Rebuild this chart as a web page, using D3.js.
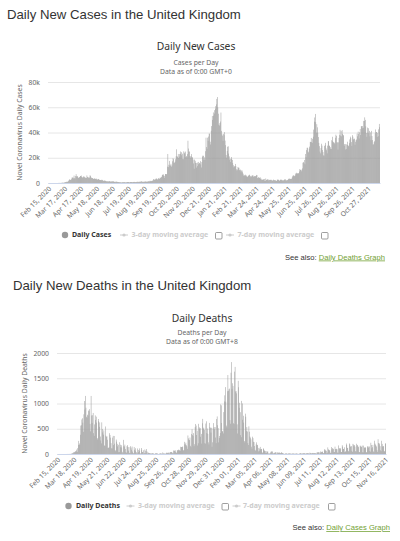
<!DOCTYPE html>
<html><head><meta charset="utf-8">
<script src="https://cdn.jsdelivr.net/npm/d3@7"></script>
<style>
html,body{margin:0;padding:0;background:#fff;}
svg{display:block;}
</style></head><body>
<svg id="c" width="400" height="541"></svg>
<script>
// ---------------- DATA ----------------
const casesStart = "2020-02-15";
// daily new cases, in thousands (Feb 15, 2020 -> Nov 19, 2021)
const casesK = [
0,0,0,0,0,0,0,0,0,0,0,0,0,0,0,
0.01,0.01,0.01,0.01,0.03,0.05,0.05,0.07,0.05,0.05,0.08,0.13,0.2,0.25,0.23,0.15,0.4,0.4,0.67,0.64,1.0,0.67,1.0,0.97,1.45,2.1,2.9,2.5,2.4,2.6,3.0,
4.3,4.2,4.4,3.7,5.9,3.8,3.6,5.5,7.0,5.2,5.3,5.3,4.3,4.0,4.6,4.6,5.6,5.5,5.9,4.7,4.3,4.5,4.6,5.4,4.9,4.3,4.3,3.9,4.0,6.0,
4.8,4.8,4.3,3.9,4.4,6.1,5.6,4.6,3.9,3.9,3.9,3.4,3.2,3.4,3.6,3.4,3.1,3.5,2.9,2.7,2.8,3.2,2.9,2.6,2.4,2.3,2.4,2.2,2.6,2.4,1.9,
1.6,1.9,1.9,1.8,1.7,1.6,1.3,1.2,1.4,1.0,1.3,1.5,1.4,1.2,1.1,1.3,1.1,1.2,1.3,1.3,1.2,0.96,0.87,0.65,1.1,1.1,0.9,0.9,0.8,0.7,
0.8,0.6,0.6,0.6,0.5,0.35,0.58,0.63,0.64,0.6,0.8,0.65,0.5,0.5,0.54,0.6,0.7,0.8,0.8,0.7,0.45,0.6,0.76,0.77,0.77,0.74,0.69,0.58,0.76,0.85,0.88,
0.74,0.74,0.67,0.77,0.95,0.95,0.87,0.76,1.06,0.8,1.15,1.0,0.95,1.45,1.0,1.0,0.71,1.1,0.8,1.2,1.0,1.3,1.2,0.85,1.2,1.0,1.3,1.3,1.1,1.7,1.7,
1.3,1.5,1.7,1.9,1.8,3.0,2.9,2.5,2.7,2.9,3.5,3.5,3.3,2.6,3.1,3.9,3.4,3.4,4.3,3.9,4.4,4.9,6.2,6.6,6.9,6.0,5.7,4.0,7.1,7.1,
6.9,7.1,12.9,23.0,12.6,14.5,17.5,13.9,13.9,15.2,12.9,13.9,17.2,19.7,18.9,15.7,16.2,16.9,18.8,21.3,26.7,21.2,20.5,23.0,19.8,20.9,22.9,25.0,23.1,24.4,22.0,
23.2,19.0,18.9,25.1,24.1,23.3,24.9,20.6,21.4,20.4,22.9,33.5,27.3,24.9,24.9,21.4,20.1,21.1,22.9,20.2,20.3,18.6,15.5,11.3,18.6,17.6,16.0,15.9,12.2,13.4,
16.2,14.9,16.7,15.8,15.5,17.3,14.7,12.3,16.6,20.9,21.7,21.5,18.4,20.3,18.5,25.2,35.9,28.5,27.1,35.9,33.4,36.8,39.2,39.0,32.7,30.5,41.4,45.1,53.1,50.0,55.9,
53.3,57.7,55.0,58.8,60.9,62.3,66.6,68.1,59.9,54.9,46.2,45.5,47.5,48.7,55.8,41.3,38.6,37.5,33.4,38.9,37.9,40.3,33.6,30.0,22.2,20.1,25.3,28.7,29.1,23.3,21.1,
18.6,16.6,19.2,20.6,19.1,18.3,15.8,14.1,12.4,13.0,13.5,15.1,13.3,10.9,9.8,10.6,12.7,12.0,12.1,10.4,9.8,10.6,8.5,9.9,9.9,8.5,7.4,6.0,
5.5,6.4,5.8,6.6,6.0,5.2,5.2,4.7,5.8,5.9,6.6,6.1,5.5,4.6,5.1,5.8,5.8,6.3,4.8,5.6,5.3,5.3,5.4,5.6,6.4,6.2,3.9,3.9,4.7,4.1,4.1,
4.5,3.4,3.4,2.3,2.8,2.4,2.6,3.0,3.2,1.7,1.7,3.6,2.5,2.5,2.7,3.0,2.6,1.9,2.5,2.4,2.4,2.7,2.4,1.7,2.0,2.1,2.7,2.4,2.1,2.4,
1.9,1.7,1.6,2.6,2.6,2.6,2.5,2.0,1.8,2.4,2.7,2.3,2.7,2.2,1.9,1.9,2.4,2.7,2.8,2.9,2.1,2.2,1.9,2.4,2.5,3.2,3.5,3.4,3.2,3.2,3.4,
3.2,4.3,5.3,6.2,5.8,5.3,5.7,6.0,7.5,7.4,8.1,7.7,7.5,7.7,7.7,9.1,11.0,10.5,10.3,9.3,10.6,11.6,16.1,16.7,15.8,18.3,14.9,23.0,20.5,26.1,
27.9,27.9,24.9,24.2,27.3,28.8,32.6,32.5,35.7,32.4,31.8,35.0,36.7,42.3,48.6,51.9,54.7,48.2,39.9,46.6,44.1,39.9,36.4,31.8,29.2,24.9,23.5,27.7,31.1,29.6,26.1,
24.5,21.9,21.7,29.3,30.2,31.8,27.4,26.0,23.5,29.6,33.1,33.1,29.5,29.5,27.0,28.4,26.9,33.9,36.6,33.1,32.4,31.9,31.9,30.8,35.8,38.3,37.3,32.2,32.2,26.5,32.2,
35.7,38.2,42.1,37.6,41.2,37.0,41.9,38.9,38.1,37.6,29.5,30.8,30.8,26.6,30.6,26.9,32.7,30.1,29.6,29.1,31.6,34.5,36.7,35.6,32.4,29.4,37.9,36.7,34.5,35.0,
35.1,30.3,32.6,33.9,34.5,39.1,37.0,40.7,38.8,35.3,40.2,42.8,38.1,45.1,44.9,43.4,45.1,49.2,43.7,49.1,52.0,50.0,44.9,39.6,36.6,43.9,39.8,43.4,39.3,41.3,37.0,
40.1,33.9,41.3,37.2,34.0,30.3,30.7,32.3,33.1,39.3,42.4,40.4,40.4,36.5,39.7,37.1,42.5,46.8,44.2
];
const casesTickLabels = ["Feb 15, 2020","Mar 17, 2020","Apr 17, 2020","May 18, 2020","Jun 18, 2020","Jul 19, 2020","Aug 19, 2020","Sep 19, 2020","Oct 20, 2020","Nov 20, 2020","Dec 21, 2020","Jan 21, 2021","Feb 21, 2021","Mar 24, 2021","Apr 24, 2021","May 25, 2021","Jun 25, 2021","Jul 26, 2021","Aug 26, 2021","Sep 26, 2021","Oct 27, 2021"];
const casesYTicks = [0, 20, 40, 60, 80];

const deathsStart = "2020-02-15";
// daily new deaths (Feb 15, 2020 -> Nov 17, 2021)
const deaths = [
0,0,0,0,0,0,0,0,0,0,0,0,0,0,0,
0,0,0,0,1,1,0,1,1,1,2,1,2,10,1,21,16,33,40,33,56,48,54,87,41,115,181,260,209,180,381,
563,569,684,708,621,439,786,1050,881,1150,917,737,717,778,761,861,847,888,596,449,1150,763,616,768,813,413,360,586,765,674,
739,621,315,288,693,649,539,626,346,268,210,627,494,428,384,468,170,160,545,363,338,351,282,118,121,134,412,377,324,215,113,
111,324,359,176,357,204,77,55,286,245,202,151,181,36,38,233,184,135,173,128,43,15,280,154,149,186,100,36,25,155,
176,137,67,137,22,16,155,126,85,148,49,21,11,138,85,66,114,40,11,11,110,79,37,111,65,14,7,119,84,38,41,
74,8,18,89,65,18,98,55,8,38,20,18,19,16,11,3,13,9,16,20,3,2,2,3,16,16,12,9,9,2,1,
3,10,12,12,12,2,3,32,8,14,9,6,5,9,27,20,21,27,27,18,11,37,37,40,40,34,17,13,71,59,
66,77,49,33,19,76,70,77,87,65,81,65,143,137,138,136,150,67,80,241,191,189,224,174,151,102,367,310,280,274,326,
162,136,397,492,378,355,413,156,194,532,595,563,376,462,168,213,598,529,501,511,341,398,206,608,696,498,521,479,215,205,
603,648,414,504,397,231,189,616,533,516,424,519,144,232,506,612,532,489,534,326,215,692,744,570,512,230,316,357,414,981,964,
613,445,454,407,830,1041,1162,1325,1035,563,529,1243,1564,1248,1280,1295,671,599,1610,1820,1290,1401,1348,610,592,1631,1725,1239,1245,1200,587,
406,1449,1322,915,1014,828,373,333,1052,1001,678,758,621,258,230,799,738,454,533,445,215,178,548,442,345,323,290,144,
104,343,315,242,236,158,82,65,190,231,175,181,121,52,64,110,141,95,101,96,33,17,112,98,70,63,57,19,23,56,43,
52,10,10,9,10,26,45,53,40,52,7,13,23,20,34,32,34,4,10,33,22,29,18,32,17,17,33,29,22,15,
14,1,1,4,13,5,13,8,3,4,11,9,9,17,7,5,3,7,9,11,10,5,5,5,6,10,10,12,0,6,0,
0,13,12,18,13,4,6,13,7,19,15,13,11,2,9,19,19,11,14,10,5,27,16,18,12,12,18,22,16,14,
18,18,15,9,9,37,28,33,34,35,6,19,50,42,36,49,41,14,19,96,73,84,61,64,14,28,131,91,85,77,65,
24,24,138,92,119,95,103,39,40,146,100,94,103,94,28,26,170,111,113,104,114,39,40,174,146,100,100,133,36,48,50,
207,178,120,121,62,45,209,191,147,148,156,61,41,201,185,158,178,146,56,49,203,166,180,150,136,40,37,167,152,147,
137,167,34,33,166,126,127,134,121,38,28,136,157,124,148,148,57,45,223,179,115,135,180,52,38,263,207,186,166,147,74,
40,293,217,214,193,155,74,57,262,201,150,157,150,61,47,201,214
];
const deathsTickLabels = ["Feb 15, 2020","Mar 18, 2020","Apr 19, 2020","May 21, 2020","Jun 22, 2020","Jul 24, 2020","Aug 25, 2020","Sep 26, 2020","Oct 28, 2020","Nov 29, 2020","Dec 31, 2020","Feb 01, 2021","Mar 05, 2021","Apr 06, 2021","May 08, 2021","Jun 09, 2021","Jul 11, 2021","Aug 12, 2021","Sep 13, 2021","Oct 15, 2021","Nov 16, 2021"];
const deathsYTicks = [0, 500, 1000, 1500, 2000];

// ---------------- DRAWING ----------------
const svg = d3.select("#c");
svg.append("rect").attr("width",400).attr("height",541).attr("fill","#fff");
const HF = "'Liberation Sans', Arial, sans-serif";
const CF = "'Noto Sans', 'DejaVu Sans', sans-serif";
const parse = d3.utcParse("%Y-%m-%d");
const fmt = d3.utcFormat("%b %d, %Y");

function drawChart(c) {
  const g = svg.append("g");
  g.append("text").attr("x", c.headX).attr("y", c.headY).text(c.heading)
    .attr("font-family", HF).attr("font-size", 13.2).attr("fill", "#333");
  g.append("text").attr("x", c.titleX).attr("y", c.titleY).text(c.title)
    .attr("text-anchor","middle").attr("font-family", CF).attr("font-size", 10.3).attr("fill", "#333");
  c.subtitle.forEach((s, k) => {
    g.append("text").attr("x", c.titleX).attr("y", c.subY + k*9).text(s)
      .attr("text-anchor","middle").attr("font-family", CF).attr("font-size", 6.8).attr("fill", "#666");
  });

  const n = c.values.length;
  const start = parse(c.start);
  const dates = d3.range(n).map(i => d3.utcDay.offset(start, i));
  const x = d3.scaleBand().domain(d3.range(n)).range([c.left, c.right]).padding(0);
  const y = d3.scaleLinear().domain([0, c.yMax]).range([c.bottom, c.top]);

  // grid + y axis
  g.append("g").attr("transform", `translate(${c.left},0)`)
    .call(d3.axisLeft(y).tickValues(c.yTicks).tickSize(-(c.right - c.left)).tickFormat(c.yFmt))
    .call(a => {
      a.select(".domain").remove();
      a.selectAll(".tick line").attr("stroke", "#e6e6e6").attr("stroke-width", 1);
      a.selectAll(".tick text").attr("x", -8).attr("fill", "#666")
        .attr("font-family", CF).attr("font-size", 6.8);
    });

  // bars
  g.append("g").selectAll("rect").data(c.values).join("rect")
    .attr("x", (d, i) => x(i)).attr("width", x.bandwidth())
    .attr("y", d => y(d)).attr("height", d => c.bottom - y(d))
    .attr("fill", "#999");

  // x axis
  const tickIdx = c.tickLabels.map(l => dates.findIndex(d => fmt(d) === l));
  g.append("g").attr("transform", `translate(0,${c.bottom})`)
    .call(d3.axisBottom(x).tickValues(tickIdx).tickSize(0).tickFormat(i => c.tickLabels[tickIdx.indexOf(i)]))
    .call(a => {
      a.select(".domain").attr("stroke", "#ccd6eb");
      a.selectAll(".tick text").attr("x", 0).attr("y", 0).attr("dy", "0.35em")
        .attr("transform", "translate(1.5,4.5) rotate(-45)")
        .style("text-anchor", "end").attr("fill", "#666")
        .attr("font-family", CF).attr("font-size", 6.8);
    });

  // y title
  g.append("text").attr("transform", `translate(${c.yTitleX},${(c.top + c.bottom)/2}) rotate(-90)`)
    .attr("text-anchor", "middle").attr("font-family", CF).attr("font-size", 6.8)
    .attr("fill", "#666").text(c.yTitle);

  // legend
  const L = c.legend;
  g.append("circle").attr("cx", L.circleX).attr("cy", L.y).attr("r", 3.2).attr("fill", "#999");
  g.append("text").attr("x", L.textX).attr("y", L.y + 2.4).text(L.name)
    .attr("font-family", CF).attr("font-size", 7).attr("font-weight", "bold").attr("fill", "#333");
  [[L.ma3Sym, L.ma3Text, "3-day moving average", L.box3], [L.ma7Sym, L.ma7Text, "7-day moving average", L.box7]].forEach(m => {
    g.append("line").attr("x1", m[0]).attr("x2", m[0] + 8).attr("y1", L.y).attr("y2", L.y)
      .attr("stroke", "#ccc").attr("stroke-width", 1);
    g.append("circle").attr("cx", m[0] + 4).attr("cy", L.y).attr("r", 1.6).attr("fill", "#ccc");
    g.append("text").attr("x", m[1]).attr("y", L.y + 2.4).text(m[2])
      .attr("font-family", CF).attr("font-size", 7).attr("font-weight", "bold").attr("fill", "#ccc");
    g.append("rect").attr("x", m[3]).attr("y", L.y - 2.5).attr("width", 6.5).attr("height", 6.5)
      .attr("rx", 1).attr("fill", "#fff").attr("stroke", "#767676").attr("stroke-width", 0.7);
  });

  // see also
  const sa = g.append("text").attr("x", c.seeX).attr("y", c.seeY).attr("text-anchor", "end")
    .attr("font-family", HF).attr("font-size", 7.6);
  sa.append("tspan").attr("fill", "#333").text("See also: ");
  sa.append("tspan").attr("fill", "#72a133").attr("text-decoration", "underline").text(c.seeLink);
}

drawChart({
  heading: "Daily New Cases in the United Kingdom", headX: 7, headY: 19,
  title: "Daily New Cases", titleX: 196, titleY: 50,
  subtitle: ["Cases per Day", "Data as of 0:00 GMT+0"], subY: 64.5,
  start: casesStart, values: casesK, tickLabels: casesTickLabels,
  left: 48, right: 380, top: 82, bottom: 183, yMax: 80, yTicks: casesYTicks,
  yFmt: v => v === 0 ? "0" : v + "k",
  yTitle: "Novel Coronavirus Daily Cases", yTitleX: 22,
  legend: { y: 235, circleX: 65, textX: 72, name: "Daily Cases",
    ma3Sym: 120, ma3Text: 131.5, box3: 215.5, ma7Sym: 226, ma7Text: 237.5, box7: 321.5 },
  seeX: 385, seeY: 259.5, seeLink: "Daily Deaths Graph"
});

drawChart({
  heading: "Daily New Deaths in the United Kingdom", headX: 13, headY: 290,
  title: "Daily Deaths", titleX: 202, titleY: 321.5,
  subtitle: ["Deaths per Day", "Data as of 0:00 GMT+8"], subY: 334.5,
  start: deathsStart, values: deaths, tickLabels: deathsTickLabels,
  left: 57, right: 386, top: 353, bottom: 454, yMax: 2000, yTicks: deathsYTicks,
  yFmt: d3.format("d"),
  yTitle: "Novel Coronavirus Daily Deaths", yTitleX: 27,
  legend: { y: 506, circleX: 68.5, textX: 76, name: "Daily Deaths",
    ma3Sym: 126.5, ma3Text: 138, box3: 222, ma7Sym: 232.5, ma7Text: 243, box7: 328.5 },
  seeX: 390, seeY: 530, seeLink: "Daily Cases Graph"
});
</script>
</body></html>
